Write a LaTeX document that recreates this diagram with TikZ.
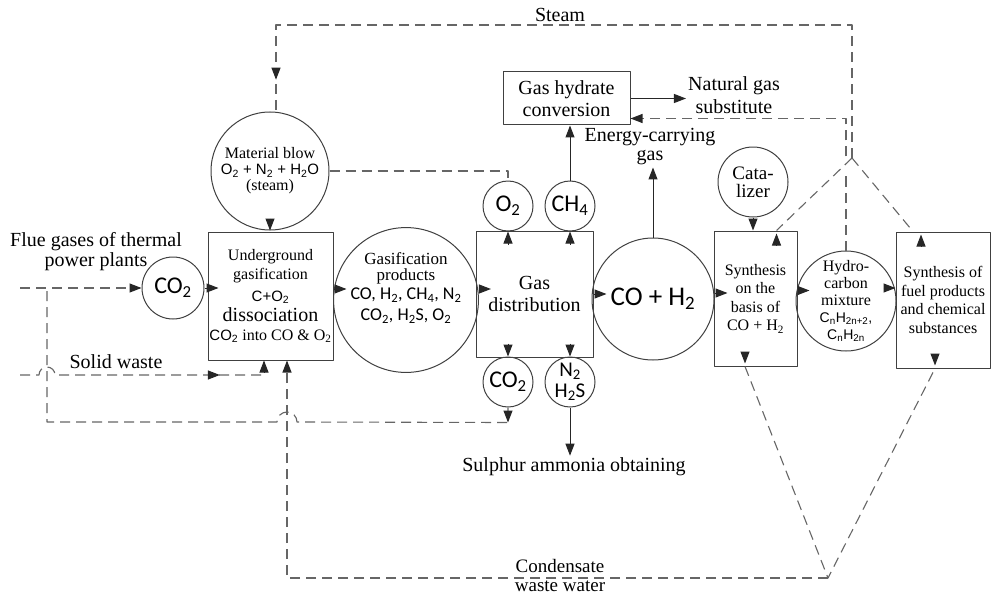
\documentclass[tikz,border=0pt]{standalone}
\usepackage{fontspec}
\setmainfont{Liberation Serif}
\newfontfamily\calfnt{Carlito}
\newfontfamily\arlfnt{Liberation Sans}
\usetikzlibrary{arrows.meta,decorations.markings}
\newcommand{\chs}[1]{\textsubscript{#1}}

\begin{document}
\begin{tikzpicture}[line join=round, x=1pt, y=-1pt,
  box/.style={draw=black!75, line width=1pt, align=center, inner sep=1pt, font=\rmfamily\fontsize{16}{18.5}\selectfont},
  circ/.style={draw=black!75, line width=1pt, circle, align=center, inner sep=0pt},
  lbl/.style={align=center, inner sep=2pt, font=\rmfamily\fontsize{20}{20}\selectfont},
  dline/.style={black!60, line width=1.1pt, dash pattern=on 10pt off 6pt},
  arr/.style={black!85, line width=1pt, -{Triangle[length=12pt,width=9pt]}},
  darr/.style={dline, -{Triangle[length=12pt,width=9pt,color=black!85]}},
  midarr/.style={postaction={decorate}, decoration={markings,
      mark=at position #1 with {\arrow{Triangle[length=12pt,width=9pt,color=black!85]}}}}]
  \useasboundingbox (0,0) rectangle (992,596);

  % main line
  \node[circ, minimum size=118pt, font=\rmfamily\fontsize{16}{16}\selectfont] (mblow) at (270,171)
    {Material blow\\{\arlfnt\fontsize{15}{16}\selectfont O\chs2 + N\chs2 + H\chs2O}\\(steam)};
  \node[box, minimum width=125pt, minimum height=128pt, font=\rmfamily\fontsize{16}{19}\selectfont] (gasif) at (270.5,296)
    {Underground\\gasification\\[3pt]{\arlfnt\fontsize{15}{16}\selectfont C+O\chs2}\\[1pt]{\fontsize{20}{20}\selectfont dissociation}\\{\arlfnt\fontsize{15}{16}\selectfont CO\chs2} into CO \& O\chs2};
  \node[circ, minimum size=62pt, font=\calfnt\fontsize{24}{24}\selectfont] (co2a) at (173,288) {CO\chs2};
  \node[circ, minimum size=142pt, font=\rmfamily\fontsize{17}{16}\selectfont] (prod) at (406,300)
    {Gasification\\products\\[3pt]{\calfnt\fontsize{18}{18}\selectfont CO, H\chs2, CH\chs4, N\chs2}\\[5pt]{\calfnt\fontsize{18}{18}\selectfont CO\chs2, H\chs2S, O\chs2}\\[10pt]};
  \node[box, minimum width=117pt, minimum height=126pt, font=\rmfamily\fontsize{20}{22}\selectfont] (dist) at (534.5,294) {Gas\\distribution};
  \node[circ, minimum size=50pt, font=\calfnt\fontsize{24}{24}\selectfont] (o2) at (508,206) {O\chs2};
  \node[circ, minimum size=50pt, font=\calfnt\fontsize{24}{24}\selectfont] (ch4) at (570,206) {CH\chs4};
  \node[circ, minimum size=50pt, font=\calfnt\fontsize{24}{24}\selectfont] (co2b) at (508,382) {CO\chs2};
  \node[circ, minimum size=50pt, font=\calfnt\fontsize{21}{21}\selectfont] (nh) at (570,382) {N\chs2\\H\chs2S};
  \node[box, minimum width=127pt, minimum height=53pt, font=\rmfamily\fontsize{20}{22}\selectfont] (hydrate) at (566.5,98.5) {Gas hydrate\\conversion};
  \node[circ, minimum size=122pt, font=\calfnt\fontsize{27}{27}\selectfont] (coh) at (653,299) {CO + H\chs2};
  \node[box, minimum width=83pt, minimum height=135pt] (synth) at (755.5,298.5) {Synthesis\\on the\\basis of\\CO + H\chs2};
  \node[circ, minimum size=70pt, font=\rmfamily\fontsize{19}{18}\selectfont] (cat) at (753,182) {Cata-\\lizer};
  \node[circ, minimum size=100pt, font=\rmfamily\fontsize{16}{17}\selectfont] (hc) at (846,301)
    {Hydro-\\carbon\\mixture\\{\arlfnt\fontsize{14}{14}\selectfont C\chs{n}H\chs{2n+2},}\\{\arlfnt\fontsize{14}{14}\selectfont C\chs{n}H\chs{2n}}};
  \node[box, minimum width=94pt, minimum height=136pt] (fuel) at (943,300) {Synthesis of\\fuel products\\and chemical\\substances};

  % labels
  \node[lbl] (steam) at (560,15) {Steam};
  \node[lbl] (flue) at (96,252) {Flue gases of thermal\\power plants};
  \node[lbl] (solid) at (116,362) {Solid waste};
  \node[lbl] (natgas) at (734,95) {Natural gas\\[3pt]substitute};
  \node[lbl, font=\rmfamily\fontsize{20}{19}\selectfont] (energy) at (650,147) {Energy-carrying\\gas};
  \node[lbl] (sulph) at (574,467) {Sulphur ammonia obtaining};
  \node[lbl, font=\rmfamily\fontsize{19}{19}\selectfont] (cond) at (560,575) {Condensate\\waste water};

  \coordinate (jtop) at (852,158);
  \coordinate (jbot) at (828,578);
  \coordinate (flin) at (20,288);
  \coordinate (swin) at (20,375);
  \coordinate (fj) at (47,288);

  % solid flows
  \draw[arr] ([yshift=12pt]mblow.south) -- (mblow.south);
  \draw[arr] (co2a.east) -- ++(14,0);
  \draw[arr] ([yshift=7pt]gasif.east) -- ++(13,0);
  \draw[arr] ([yshift=11pt]prod.east) -- ++(12,0);
  \draw[arr] (dist.east) -- ++(13,0);
  \draw[arr] ([yshift=6pt]coh.east) -- ++(13,0);
  \draw[arr] ([yshift=8pt]synth.east) -- ++(12,0);
  \draw[arr] ([xshift=-12pt,yshift=12pt]fuel.west) -- ([yshift=12pt]fuel.west);
  \draw[arr] ([yshift=-13pt]o2.south) -- (o2.south);
  \draw[arr] ([yshift=-13pt]ch4.south) -- (ch4.south);
  \draw[arr] ([yshift=13pt]co2b.north) -- (co2b.north);
  \draw[arr] ([yshift=13pt]nh.north) -- (nh.north);
  \draw[arr] (ch4.north) -- (ch4.north |- hydrate.south);
  \draw[arr] (nh.south) -- (nh.south |- sulph.north);
  \draw[arr] (coh.north) -- (coh.north |- energy.south);
  \draw[arr] (cat.south) -- (cat.south |- synth.north);
  \draw[arr] (hydrate.east) -- (hydrate.east -| natgas.west);

  % steam
  \draw[dline, midarr=0.96] (jtop) -- (852,25) -| ([xshift=6pt]mblow.north);
  \draw[dline] (jtop) -- ([xshift=21pt]synth.north);
  \draw[dline] (jtop) -- ([xshift=-30pt]fuel.north);
  \draw[arr] ([xshift=21pt,yshift=-14pt]synth.north) -- ([xshift=21pt,yshift=-3pt]synth.north);
  \draw[arr] ([xshift=-22pt,yshift=-14pt]fuel.north) -- ([xshift=-22pt,yshift=-3pt]fuel.north);

  % hydrocarbon back to gas hydrate
  \draw[darr] (hc.north) -- ++(0,-80) ++(0,-14) |- ([yshift=-20pt]hydrate.east);
  \draw[dline] (mblow.east) -| (o2.north);

  % flue gases and solid waste
  \draw[darr] (flin) -- (co2a.west);
  \draw[dline, midarr=209pt] (swin) -- (39,375) arc[start angle=180, end angle=360, radius=8]
    -- (264,375) -- ([xshift=-6.5pt]gasif.south);
  \draw[arr] ([xshift=-6.5pt,yshift=-12pt]gasif.south) -- ([xshift=-6.5pt]gasif.south);
  \draw[dline, midarr=15pt] (co2b.south) -- ++(0,15) -- (297,422)
    arc[start angle=0, end angle=-180, radius=10] -- (47,422) -- (fj);

  % condensate
  \draw[dline] ([xshift=-10.5pt]synth.south) -- (jbot) -- ([xshift=-8pt]fuel.south);
  \draw[arr] ([xshift=-10.5pt,yshift=14pt]synth.south) -- ([xshift=-10.5pt,yshift=3pt]synth.south);
  \draw[arr] ([xshift=-8pt,yshift=14pt]fuel.south) -- ([xshift=-8pt,yshift=3pt]fuel.south);
  \draw[darr] (jbot) -| ([xshift=16.5pt]gasif.south);
\end{tikzpicture}
\end{document}
